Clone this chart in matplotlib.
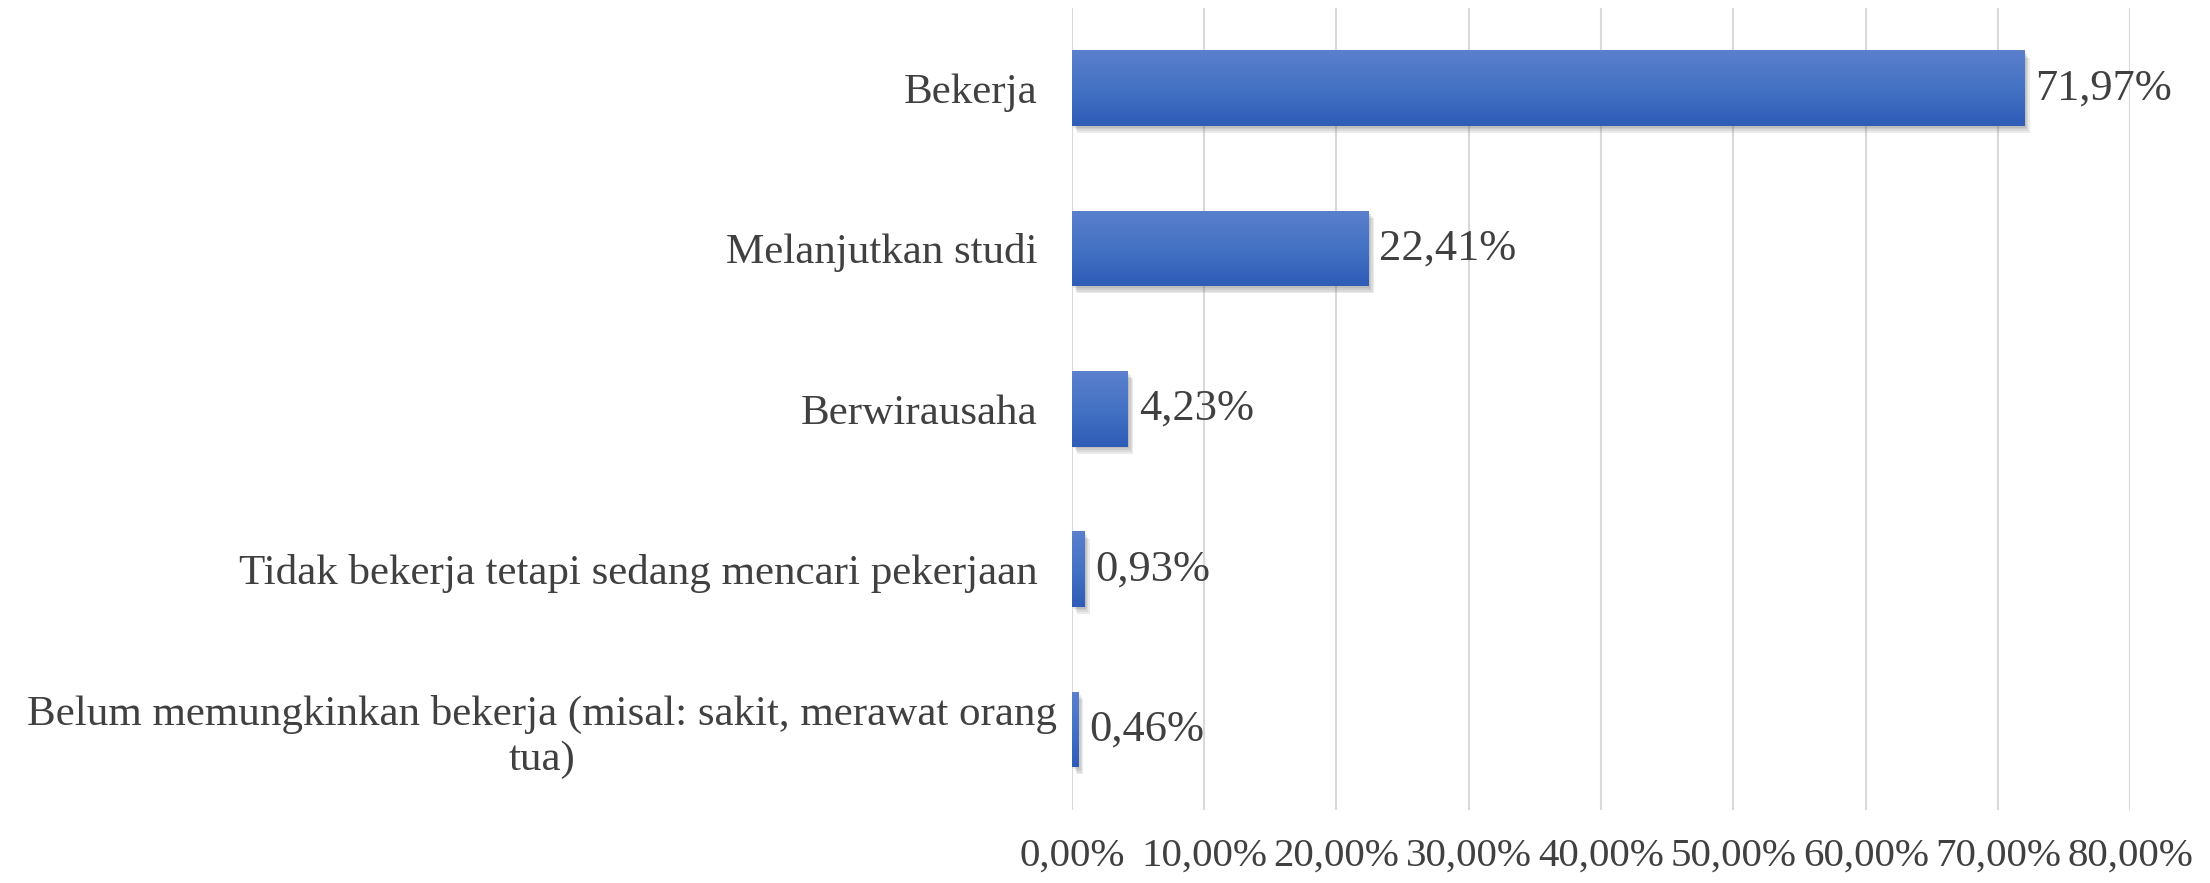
import matplotlib.pyplot as plt
import matplotlib.patheffects as pe
from matplotlib.colors import LinearSegmentedColormap
import numpy as np

categories = [
    "Bekerja",
    "Melanjutkan studi",
    "Berwirausaha",
    "Tidak bekerja tetapi sedang mencari pekerjaan",
    "Belum memungkinkan bekerja (misal: sakit, merawat orang\ntua)",
]
values = [71.97, 22.41, 4.23, 0.93, 0.46]
value_labels = ["71,97%", "22,41%", "4,23%", "0,93%", "0,46%"]
ticks = [0, 10, 20, 30, 40, 50, 60, 70, 80]
tick_labels = ["0,00%", "10,00%", "20,00%", "30,00%", "40,00%",
               "50,00%", "60,00%", "70,00%", "80,00%"]

plt.rcParams['font.family'] = ['Liberation Serif', 'DejaVu Serif']
text_color = "#404040"
grid_color = "#d9d9d9"

fig = plt.figure(figsize=(22.1, 8.83), dpi=100)
ax = fig.add_axes([0.485, 0.083, 0.479, 0.908])

y = np.arange(len(categories))
bar_h = 0.47

# soft shadow: a few faint offset copies
shadow = [pe.SimplePatchShadow(offset=(o, -o * 1.3), shadow_rgbFace="#606060", alpha=0.12)
          for o in (1, 2, 3, 4)]
bars = ax.barh(y, values, height=bar_h, color="#4472C4", zorder=3,
               path_effects=shadow + [pe.Normal()])

# vertical gradient on each bar
cmap = LinearSegmentedColormap.from_list("bar", ["#5B80CD", "#4472C4", "#2E5CB7"])
grad = np.linspace(0, 1, 256).reshape(-1, 1)
for rect, v in zip(bars, values):
    y0 = rect.get_y()
    im = ax.imshow(grad, cmap=cmap, aspect="auto", zorder=4,
                   extent=[0, v, y0 + bar_h, y0], origin="upper")
    im.set_clip_path(rect)

for yi, v, lab in zip(y, values, value_labels):
    ax.annotate(lab, (v, yi), xytext=(8, 0), textcoords="offset points",
                va="center", ha="left", fontsize=32, color=text_color, zorder=5)

ax.set_xlim(0, 80)
ax.set_ylim(len(categories) - 0.5, -0.5)
ax.set_xticks(ticks)
ax.set_xticklabels(tick_labels, fontsize=29.5, color=text_color)
ax.set_yticks(y)
ax.set_yticklabels(categories, fontsize=31, color=text_color, multialignment="center")
ax.tick_params(axis="both", length=0)
ax.tick_params(axis="y", pad=25)
ax.tick_params(axis="x", pad=20)
# wrapped label sits a little closer to the axis
ax.yaxis.get_major_ticks()[4].set_pad(11)

ax.grid(axis="x", color=grid_color, linewidth=1.5, zorder=0)
ax.set_axisbelow(True)
for s in ax.spines.values():
    s.set_visible(False)

fig.savefig("out.png", dpi=100, facecolor="white")
